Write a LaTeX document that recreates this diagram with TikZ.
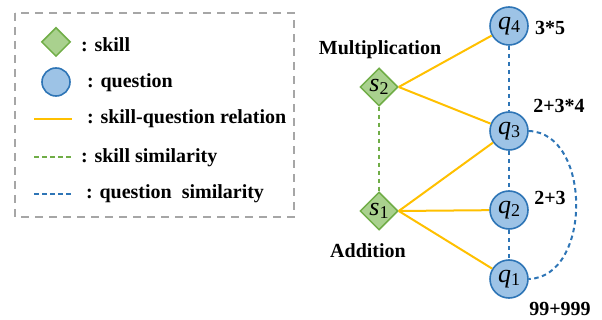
\documentclass[tikz,border=0pt]{standalone}
\usepackage{fontspec}
\setmainfont{Liberation Serif}
\usetikzlibrary{shapes.geometric}
\definecolor{sklfill}{HTML}{A9D18E}
\definecolor{skldraw}{HTML}{70AD47}
\definecolor{qfill}{HTML}{9DC3E6}
\definecolor{qdraw}{HTML}{2E75B6}
\definecolor{relcol}{HTML}{FFC000}
\definecolor{boxcol}{HTML}{A6A6A6}
\newcommand{\mylbl}[2]{{\fontsize{26}{26}\selectfont\textit{#1}\raisebox{-0.3ex}{\fontsize{18}{18}\selectfont #2}}}
\tikzset{
  skillnode/.style={diamond, draw=skldraw, fill=sklfill, line width=1.5pt, inner sep=0pt, minimum width=38pt, minimum height=38pt},
  qnode/.style={circle, draw=qdraw, fill=qfill, line width=1.6pt, inner sep=0pt, minimum size=38pt},
  relline/.style={relcol, line width=2pt},
  sksim/.style={skldraw, line width=2pt, dash pattern=on 4.5pt off 3.5pt},
  qsim/.style={qdraw, line width=2pt, dash pattern=on 4.5pt off 3.5pt},
  txt/.style={font=\bfseries\fontsize{20}{20}\selectfont, inner sep=0pt},
}
\begin{document}
\begin{tikzpicture}[x=1pt,y=-1pt]
\useasboundingbox (0,0) rectangle (602,320);
% legend box
\draw[boxcol, line width=1.6pt, dash pattern=on 8pt off 6pt] (15,13) rectangle (294,217);
\node[skillnode, minimum width=29pt, minimum height=29pt] (lsk) at (56,42) {};
\node[qnode, minimum size=28pt] (lq) at (56,82) {};
\coordinate (la1) at (34,119); \coordinate (lb1) at (72,119);
\coordinate (la2) at (34,157); \coordinate (lb2) at (73,157);
\coordinate (la3) at (34,194); \coordinate (lb3) at (72,194);
\draw[relline] (la1) -- (lb1);
\draw[sksim] (la2) -- (lb2);
\draw[qsim] (la3) -- (lb3);
\node[txt, anchor=base west] (t1) at (81,52) {: skill};
\node[txt, anchor=base west] (t2) at (87,88) {: question};
\node[txt, anchor=base west] (t3) at (87,124) {: skill-question relation};
\node[txt, anchor=base west] (t4) at (81,163) {: skill similarity};
\node[txt, anchor=base west] (t5) at (86,199) {: question\ \ similarity};
% graph
\node[skillnode] (s2) at (379,87) {\mylbl{s}{2}};
\node[skillnode] (s1) at (379,211) {\mylbl{s}{1}};
\node[qnode] (q4) at (509,26) {\mylbl{q}{4}};
\node[qnode] (q3) at (509,131) {\mylbl{q}{3}};
\node[qnode] (q2) at (509,210) {\mylbl{q}{2}};
\node[qnode] (q1) at (509,279) {\mylbl{q}{1}};
\draw[relline] (s2.east) -- (q4);
\draw[relline] (s2.east) -- (q3);
\draw[relline] (s1.east) -- (q3);
\draw[relline] (s1.east) -- (q2);
\draw[relline] (s1.east) -- (q1);
\draw[sksim] (s2.south) -- (s1.north);
\draw[qsim] (q4.south) -- (q3.north);
\draw[qsim] (q3.south) -- (q2.north);
\draw[qsim] (q2.south) -- (q1.north);
\draw[qsim] (q3.east) .. controls (592,133) and (592,277) .. (q1.east);
\node[txt, anchor=base] (lm) at (380,55) {Multiplication};
\node[txt, anchor=base] (la) at (368,258) {Addition};
\node[txt, anchor=base] (e4) at (550,35) {3*5};
\node[txt, anchor=base] (e3) at (559,113) {2+3*4};
\node[txt, anchor=base] (e2) at (550,205) {2+3};
\node[txt, anchor=base] (e1) at (560,315) {99+999};
\end{tikzpicture}
\end{document}
